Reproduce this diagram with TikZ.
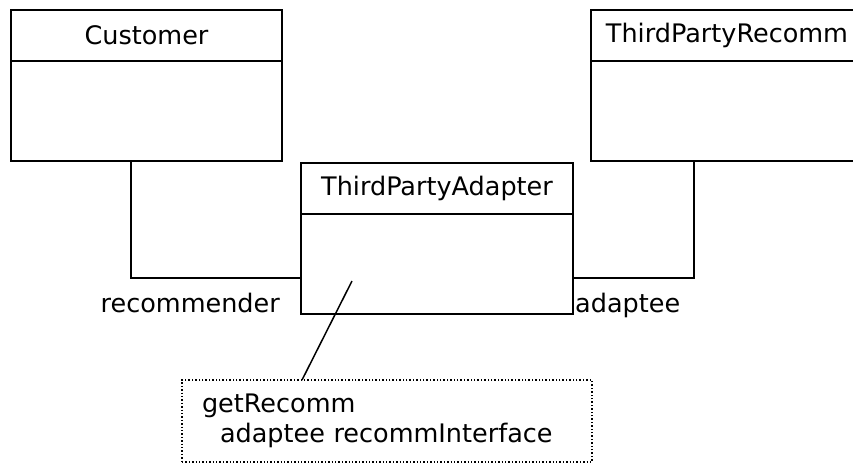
\documentclass[tikz,border=0pt]{standalone}
\usepackage{fontspec}
\usetikzlibrary{calc,positioning}
\newfontfamily\umlfont{DejaVu Sans}
\newcommand{\umltext}{\umlfont\fontsize{25.5}{30}\selectfont}
\tikzset{
  classhead/.style={
    draw, line width=2pt, minimum width=#1, minimum height=51pt,
    inner sep=0pt, outer sep=0pt, font=\umltext
  },
  classbody/.style={
    draw, line width=2pt, minimum width=#1, minimum height=100pt,
    inner sep=0pt, outer sep=0pt
  },
  role/.style={inner sep=0pt, font=\umltext},
  assoc/.style={line width=2pt},
  notebox/.style={
    draw, dotted, line width=1.4pt, align=left, inner xsep=20pt,
    outer sep=0pt, font=\umltext
  },
  noteline/.style={line width=1.5pt}
}

\begin{document}
\begin{tikzpicture}[x=1pt,y=-1pt]
    \useasboundingbox (0,0) rectangle (853,464);
    \clip (0,0) rectangle (853,464);
    % classes
    \node[classhead=271pt] (custhead) at (146.5,35.5) {Customer};
    \node[classbody=271pt,below=0pt of custhead] (custbody) {};
    \node[classhead=272pt] (adapthead) at (437,188.5) {ThirdPartyAdapter};
    \node[classbody=272pt,below=0pt of adapthead] (adaptbody) {};
    \node[classhead=272pt] (recommhead) at (727,35.5) {ThirdPartyRecomm};
    \node[classbody=272pt,below=0pt of recommhead] (recommbody) {};
    % associations and role names
    \draw[assoc] ([xshift=120pt]custbody.south west) |- ([yshift=-13.5pt]adaptbody.west);
    \draw[assoc] ([xshift=103pt]recommbody.south west) |- ([yshift=-13.5pt]adaptbody.east);
    \node[role,anchor=base east] (recrole) at ([shift={(-21pt,2pt)}]adaptbody.south west) {recommender};
    \node[role,anchor=base west] (adaptrole) at ([shift={(2pt,2pt)}]adaptbody.south east) {adaptee};
    % note on the adapter
    \node[notebox,text width=370pt,minimum height=82pt] (note) at (387,421)
      {getRecomm\\\hspace*{18pt}adaptee recommInterface};
    \coordinate (notepin) at (352,281);
    \draw[noteline] ([xshift=120pt]note.north west) -- (notepin);
  \end{tikzpicture}
\end{document}
